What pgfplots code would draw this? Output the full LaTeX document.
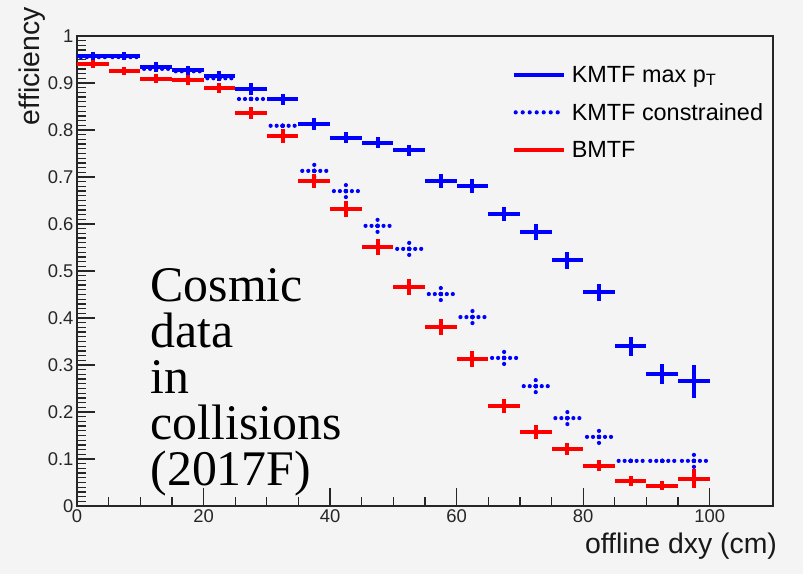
\documentclass[border=0pt]{standalone}
\usepackage{pgfplots}
\pgfplotsset{compat=1.18}
\usepackage{pgfplotstable}
\usepackage{fontspec}
\setmainfont{Liberation Sans}
\newfontfamily\serifcosmic{Liberation Serif}
\definecolor{rootblue}{RGB}{0,0,255}
\definecolor{rootred}{RGB}{255,0,0}
\definecolor{bggray}{RGB}{244,244,244}

\pgfplotstableread{
x y ex ey
2.5 0.957 2.5 0.008
7.5 0.957 2.5 0.008
12.5 0.934 2.5 0.010
17.5 0.927 2.5 0.010
22.5 0.915 2.5 0.010
27.5 0.887 2.5 0.012
32.5 0.865 2.5 0.012
37.5 0.813 2.5 0.012
42.5 0.784 2.5 0.012
47.5 0.773 2.5 0.012
52.5 0.757 2.5 0.012
57.5 0.692 2.5 0.015
62.5 0.681 2.5 0.015
67.5 0.622 2.5 0.015
72.5 0.582 2.5 0.017
77.5 0.523 2.5 0.018
82.5 0.455 2.5 0.018
87.5 0.340 2.5 0.020
92.5 0.281 2.5 0.022
97.5 0.265 2.5 0.035
}\kmtfmax

\pgfplotstableread{
x y ex ey
2.5 0.955 2.5 0.008
7.5 0.955 2.5 0.008
12.5 0.930 2.5 0.010
17.5 0.925 2.5 0.010
22.5 0.910 2.5 0.010
27.5 0.866 2.5 0.012
32.5 0.809 2.5 0.012
37.5 0.713 2.5 0.015
42.5 0.670 2.5 0.015
47.5 0.596 2.5 0.015
52.5 0.547 2.5 0.015
57.5 0.451 2.5 0.015
62.5 0.402 2.5 0.015
67.5 0.315 2.5 0.015
72.5 0.255 2.5 0.015
77.5 0.187 2.5 0.015
82.5 0.147 2.5 0.013
87.5 0.096 2.5 0.012
92.5 0.096 2.5 0.012
97.5 0.096 2.5 0.020
}\kmtfcons

\pgfplotstableread{
x y ex ey
2.5 0.940 2.5 0.008
7.5 0.925 2.5 0.008
12.5 0.909 2.5 0.010
17.5 0.906 2.5 0.010
22.5 0.889 2.5 0.010
27.5 0.836 2.5 0.013
32.5 0.787 2.5 0.015
37.5 0.691 2.5 0.015
42.5 0.632 2.5 0.017
47.5 0.551 2.5 0.017
52.5 0.466 2.5 0.017
57.5 0.381 2.5 0.017
62.5 0.313 2.5 0.017
67.5 0.213 2.5 0.015
72.5 0.157 2.5 0.015
77.5 0.121 2.5 0.013
82.5 0.086 2.5 0.012
87.5 0.053 2.5 0.010
92.5 0.043 2.5 0.010
97.5 0.058 2.5 0.020
}\bmtf

\begin{document}
\begin{tikzpicture}
\fill[bggray] (0,0) rectangle (803bp,574bp);
\begin{axis}[
  at={(77bp,68bp)}, anchor=south west,
  scale only axis, width=696bp, height=470bp,
  xmin=0, xmax=110, ymin=0, ymax=1,
  xtick={0,20,40,60,80,100},
  ytick={0,0.1,0.2,0.3,0.4,0.5,0.6,0.7,0.8,0.9,1},
  minor x tick num=3, minor y tick num=9,
  tick align=inside, tick pos=left,
  major tick length=18bp, minor tick length=9bp,
  axis line style={line width=1.5bp, black!85},
  every tick/.append style={black!85, line width=1.3bp},
  tick label style={font=\fontsize{18.5}{20}\selectfont, text=black!85},
  /pgf/number format/assume math mode=true,
  xlabel={offline dxy (cm)}, ylabel={efficiency},
  label style={font=\fontsize{28.5}{30}\selectfont, text=black!90},
  xlabel style={at={(rel axis cs:1.006,-0.0574)}, anchor=north east, inner sep=0pt},
  ylabel style={at={(rel axis cs:-0.0445,1.0617)}, anchor=south east, inner sep=0pt},
  legend style={draw=none, fill=none, at={(rel axis cs:0.62,0.945)}, anchor=north west,
    font=\fontsize{23.5}{25}\selectfont, row sep=15.5bp,
    /tikz/every odd column/.append style={column sep=4bp}},
  legend cell align=left,
]
\addplot[only marks, mark=none, rootblue,
  legend image code/.code={\draw[line width=4bp, rootblue] (0bp,0bp) -- (50bp,0bp);},
  error bars/.cd, x dir=both, x explicit, y dir=both, y explicit, error mark=none,
  error bar style={line width=4bp, rootblue}]
  table[x=x, y=y, x error=ex, y error=ey] {\kmtfmax};
\addlegendentry{KMTF max p\textsubscript{T}}
\addplot[only marks, mark=none, rootblue,
  legend image code/.code={\draw[line width=4.2bp, rootblue, line cap=round, dash pattern=on 0bp off 7bp] (2bp,0bp) -- (50bp,0bp);},
  error bars/.cd, x dir=both, x explicit, y dir=both, y explicit, error mark=none,
  error bar style={line width=4.2bp, rootblue, line cap=round, dash pattern=on 0bp off 6bp}]
  table[x=x, y=y, x error=ex, y error=ey] {\kmtfcons};
\addlegendentry{KMTF constrained}
\addplot[only marks, mark=none, rootred,
  legend image code/.code={\draw[line width=4bp, rootred] (0bp,0bp) -- (50bp,0bp);},
  error bars/.cd, x dir=both, x explicit, y dir=both, y explicit, error mark=none,
  error bar style={line width=4bp, rootred}]
  table[x=x, y=y, x error=ex, y error=ey] {\bmtf};
\addlegendentry{BMTF}
\node[anchor=north west, align=left, inner sep=0pt,
  font=\serifcosmic\fontsize{50}{46}\selectfont] at (axis cs:11.6,0.505)
  {Cosmic\\data\\in\\collisions\\(2017F)};
\end{axis}
\end{tikzpicture}
\end{document}
